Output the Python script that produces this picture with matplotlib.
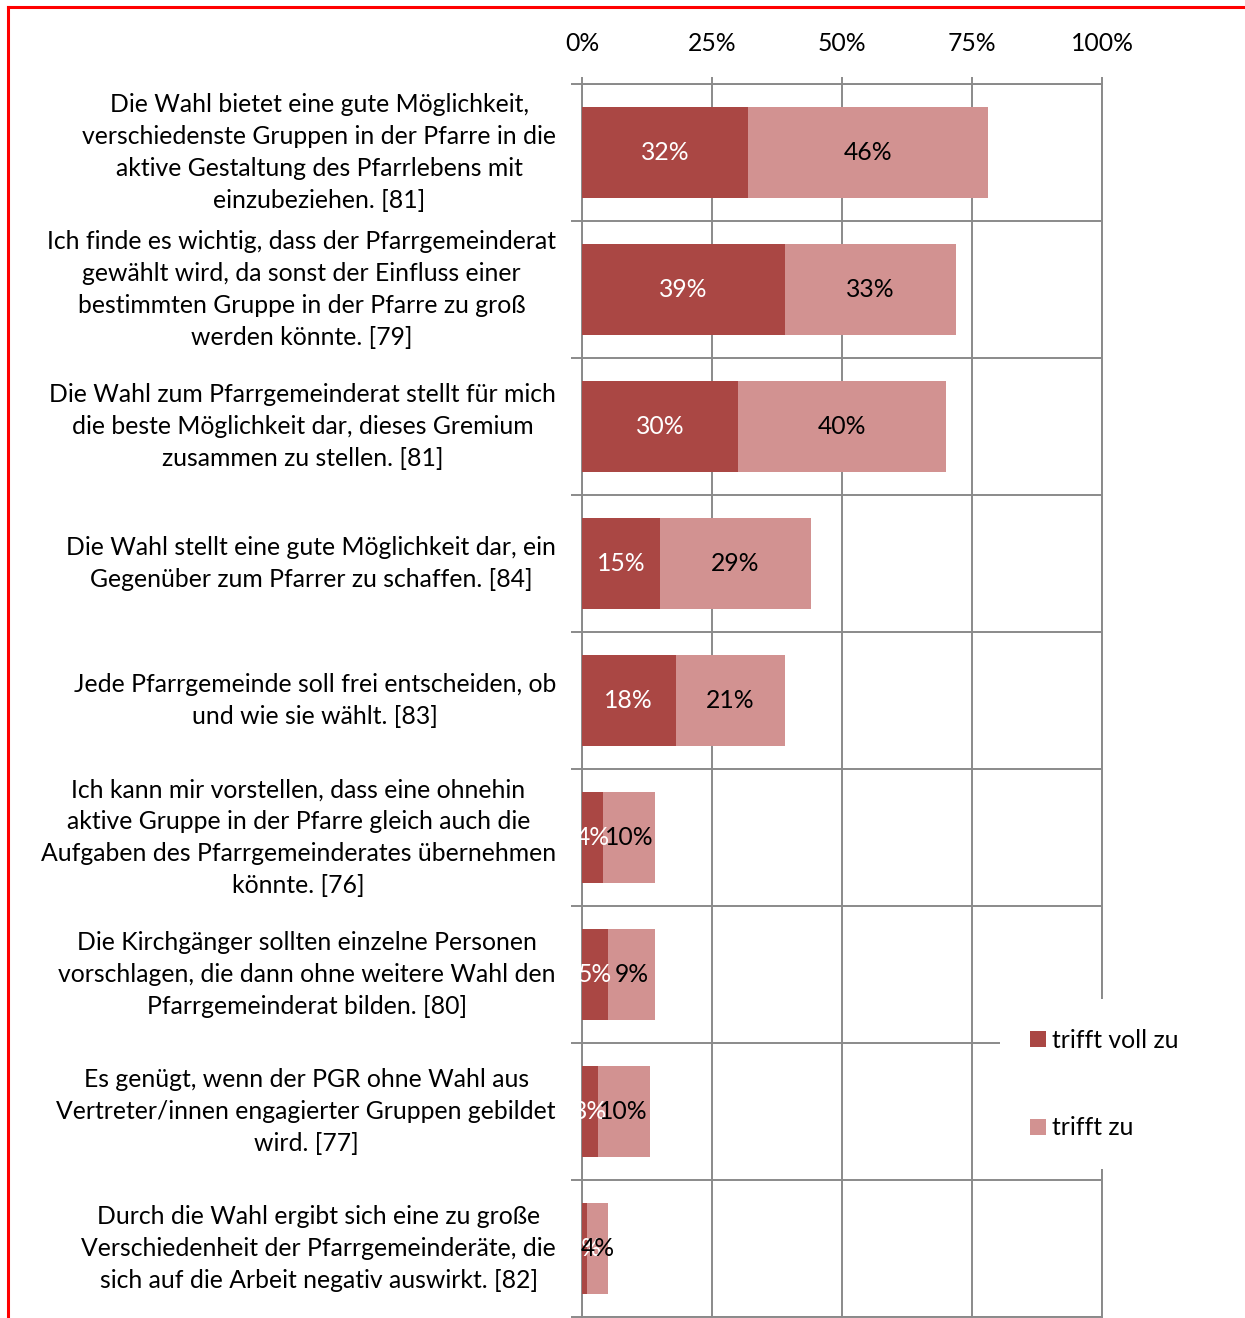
import matplotlib

matplotlib.use("Agg")

import matplotlib.pyplot as plt
import numpy as np
from matplotlib.lines import Line2D
from matplotlib.patches import Patch

plt.rcParams["font.family"] = ["Lato", "DejaVu Sans"]

statements = [
    "Die Wahl bietet eine gute Möglichkeit,\nverschiedenste Gruppen in der Pfarre in die\naktive Gestaltung des Pfarrlebens mit\neinzubeziehen. [81]",
    "Ich finde es wichtig, dass der Pfarrgemeinderat\ngewählt wird, da sonst der Einfluss einer\nbestimmten Gruppe in der Pfarre zu groß\nwerden könnte. [79]",
    "Die Wahl zum Pfarrgemeinderat stellt für mich\ndie beste Möglichkeit dar, dieses Gremium\nzusammen zu stellen. [81]",
    "Die Wahl stellt eine gute Möglichkeit dar, ein\nGegenüber zum Pfarrer zu schaffen. [84]",
    "Jede Pfarrgemeinde soll frei entscheiden, ob\nund wie sie wählt. [83]",
    "Ich kann mir vorstellen, dass eine ohnehin\naktive Gruppe in der Pfarre gleich auch die\nAufgaben des Pfarrgemeinderates übernehmen\nkönnte. [76]",
    "Die Kirchgänger sollten einzelne Personen\nvorschlagen, die dann ohne weitere Wahl den\nPfarrgemeinderat bilden. [80]",
    "Es genügt, wenn der PGR ohne Wahl aus\nVertreter/innen engagierter Gruppen gebildet\nwird. [77]",
    "Durch die Wahl ergibt sich eine zu große\nVerschiedenheit der Pfarrgemeinderäte, die\nsich auf die Arbeit negativ auswirkt. [82]",
]
voll_zu = [32, 39, 30, 15, 18, 4, 5, 3, 1]
trifft_zu = [46, 33, 40, 29, 21, 10, 9, 10, 4]
series_names = ["trifft voll zu", "trifft zu"]
x_ticks = [0, 25, 50, 75, 100]

DARK = "#AA4744"
LIGHT = "#D29291"
GRID = "#8A8A8A"
BORDER = "#FF0000"
FS = 17.8

W, H = 1245, 1318
fig = plt.figure(figsize=(W / 100, H / 100), dpi=100)
fig.patch.set_facecolor("white")
ax = fig.add_axes([582 / W, 1 - 1317 / H, 520 / W, (1317 - 84) / H])

y = np.arange(len(statements))
ax.barh(y, voll_zu, height=0.665, color=DARK, zorder=3)
ax.barh(y, trifft_zu, left=voll_zu, height=0.665, color=LIGHT, zorder=3)

for i, (a, b) in enumerate(zip(voll_zu, trifft_zu)):
    ax.text(a / 2, i, f"{a}%", color="white", ha="center", va="center", fontsize=FS, zorder=4)
    ax.text(a + b / 2, i, f"{b}%", color="black", ha="center", va="center", fontsize=FS, zorder=4)
    ax.text(-5, i, statements[i], ha="right", va="center", multialignment="center",
            fontsize=FS, linespacing=1.46)

ax.set_xlim(0, 100)
ax.set_ylim(len(statements) - 0.5, -0.5)
ax.xaxis.tick_top()
ax.set_xticks(x_ticks)
ax.set_xticklabels([f"{t}%" for t in x_ticks])
ax.set_yticks(np.arange(len(statements) + 1) - 0.5)
ax.set_yticklabels([])
ax.grid(True, color=GRID, linewidth=1.4)
ax.set_axisbelow(True)
for spine in ax.spines.values():
    spine.set_color(GRID)
    spine.set_linewidth(1.4)
ax.tick_params(axis="x", which="both", top=True, bottom=False, length=5, width=1.4,
               color=GRID, pad=16, labelsize=FS)
ax.tick_params(axis="y", which="both", left=True, length=8, width=1.4, color=GRID)

handles = [Patch(facecolor=DARK), Patch(facecolor=LIGHT)]
fig.legend(handles, series_names, loc="upper left", bbox_to_anchor=(1000 / W, 1 - 999 / H),
           fontsize=FS, frameon=True, facecolor="white", edgecolor="none", framealpha=1,
           fancybox=False, borderpad=1.2, labelspacing=2.62, handlelength=0.65,
           handleheight=0.65, handletextpad=0.25, borderaxespad=0)

# red frame along the top and left edge
fig.add_artist(Line2D([8 / W, 8 / W], [0, 1 - 7 / H], transform=fig.transFigure,
                      color=BORDER, linewidth=2.2))
fig.add_artist(Line2D([8 / W, 1], [1 - 7 / H, 1 - 7 / H], transform=fig.transFigure,
                      color=BORDER, linewidth=2.2))

fig.savefig("out.png", dpi=100, facecolor="white")
